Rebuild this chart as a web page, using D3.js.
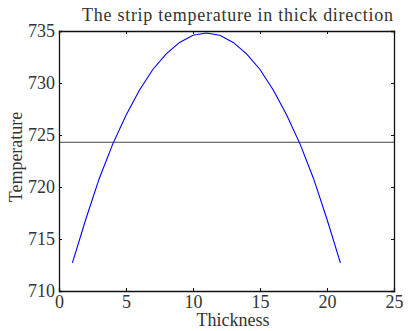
<!DOCTYPE html>
<html>
<head>
<meta charset="utf-8">
<script src="https://cdn.jsdelivr.net/npm/d3@7"></script>
<style>
  body { margin: 0; background: #fff; }
</style>
</head>
<body>
<svg id="chart" width="409" height="331"></svg>
<script>
// Data
const thickness = [1, 2, 3, 4, 5, 6, 7, 8, 9, 10, 11, 12, 13, 14, 15, 16, 17, 18, 19, 20, 21];
const temperature = [712.7, 716.9, 720.8, 724.1, 726.9, 729.3, 731.3, 732.8, 733.9, 734.6, 734.8,
                     734.6, 733.9, 732.8, 731.3, 729.3, 726.9, 724.1, 720.8, 716.9, 712.7];
const refTemp = 724.3;
const xTicks = [0, 5, 10, 15, 20, 25];
const yTicks = [710, 715, 720, 725, 730, 735];

const FONT = "'Liberation Serif', 'Times New Roman', Times, serif";

const svg = d3.select("#chart");
const margin = { top: 31, right: 15, bottom: 40, left: 59 };
const width = 409 - margin.left - margin.right;
const height = 331 - margin.top - margin.bottom;

const g = svg.append("g").attr("transform", `translate(${margin.left},${margin.top})`);

const x = d3.scaleLinear().domain([0, 25]).range([0, width]);
const y = d3.scaleLinear().domain([710, 735]).range([height, 0]);

// Reference line
g.append("line")
  .attr("x1", 0).attr("x2", width)
  .attr("y1", y(refTemp)).attr("y2", y(refTemp))
  .attr("stroke", "#444").attr("stroke-width", 1);

// Curve
const line = d3.line().x((d, i) => x(thickness[i])).y(d => y(d));
g.append("path")
  .datum(temperature)
  .attr("d", line)
  .attr("fill", "none")
  .attr("stroke", "#0000ff")
  .attr("stroke-width", 1.1);

// Axes (MATLAB style, inward ticks, box on)
const bottomAxis = g.append("g").attr("transform", `translate(0,${height})`)
  .call(d3.axisBottom(x).tickValues(xTicks).tickSize(-3).tickPadding(4));
bottomAxis.selectAll("text").attr("dy", "0.71em");

const leftAxis = g.append("g")
  .call(d3.axisLeft(y).tickValues(yTicks).tickSize(-3).tickPadding(4));
leftAxis.selectAll("text").attr("dy", "0.3em");

g.append("g")
  .call(d3.axisTop(x).tickValues(xTicks).tickSize(-3).tickFormat(""));
g.append("g").attr("transform", `translate(${width},0)`)
  .call(d3.axisRight(y).tickValues(yTicks).tickSize(-3).tickFormat(""));

g.selectAll(".tick text")
  .attr("font-family", FONT)
  .attr("font-size", 18)
  .attr("fill", "#333");
g.selectAll(".domain").attr("stroke", "#111").attr("stroke-width", 1.3);
g.selectAll(".tick line").attr("stroke", "#111");

// Labels
svg.append("text")
  .attr("x", 82).attr("y", 21)
  .attr("textLength", 311)
  .attr("lengthAdjust", "spacing")
  .attr("font-family", FONT)
  .attr("font-size", 18)
  .attr("fill", "#333")
  .text("The strip temperature in thick direction");

svg.append("text")
  .attr("x", 233).attr("y", 326)
  .attr("text-anchor", "middle")
  .attr("font-family", FONT)
  .attr("font-size", 18)
  .attr("fill", "#333")
  .text("Thickness");

svg.append("text")
  .attr("transform", "translate(22,157) rotate(-90)")
  .attr("text-anchor", "middle")
  .attr("font-family", FONT)
  .attr("font-size", 18)
  .attr("fill", "#333")
  .text("Temperature");
</script>
</body>
</html>
